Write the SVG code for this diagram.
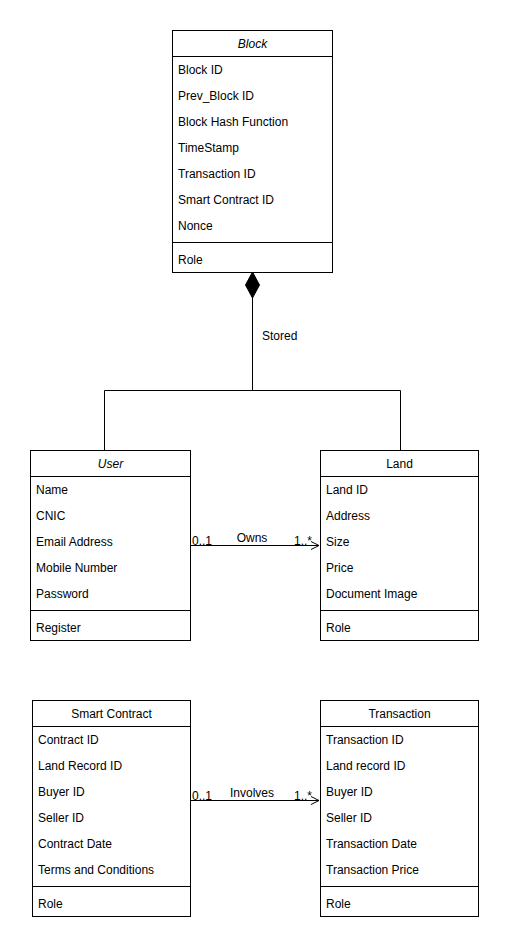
<svg xmlns="http://www.w3.org/2000/svg" width="509" height="950" viewBox="0 0 509 950">
<style>
.box{fill:#fff;stroke:#000;stroke-width:1}
.ln{fill:none;stroke:#000;stroke-width:1}
text{font-family:"Liberation Sans",Arial,sans-serif;font-size:12px;fill:#000}
.h{text-anchor:middle}
.i{font-style:italic}
</style>
<defs>
<marker id="open" markerWidth="10" markerHeight="10" refX="9" refY="5" orient="auto" markerUnits="userSpaceOnUse">
<path d="M1,1 L9,5 L1,9" fill="none" stroke="#000" stroke-width="1"/>
</marker>
</defs>
<rect width="509" height="950" fill="#fff"/>
<g id="connectors">
<path class="ln" d="M252.5,297 V390.5 M104.5,390.5 H400.5 M104.5,390.5 V450 M400.5,390.5 V450"/>
<path d="M252.5,272 L259.5,285 L252.5,298 L245.5,285 Z" fill="#000" stroke="#000"/>
<text x="262" y="340">Stored</text>
<path class="ln" d="M190,545.5 H319" marker-end="url(#open)"/>
<text x="192" y="545">0..1</text>
<text x="252" y="542" class="h">Owns</text>
<text x="294" y="545">1..*</text>
<path class="ln" d="M190,800.5 H319" marker-end="url(#open)"/>
<text x="192" y="800">0..1</text>
<text x="252" y="797" class="h">Involves</text>
<text x="294" y="800">1..*</text>
</g>
<g id="block">
<rect class="box" x="172.5" y="30.5" width="160" height="242"/>
<path class="ln" d="M172.5,56.5 H332.5 M172.5,242.5 H332.5"/>
<text x="252.5" y="48" class="h i">Block</text>
<text x="178" y="74">Block ID</text>
<text x="178" y="100">Prev_Block ID</text>
<text x="178" y="126">Block Hash Function</text>
<text x="178" y="152">TimeStamp</text>
<text x="178" y="178">Transaction ID</text>
<text x="178" y="204">Smart Contract ID</text>
<text x="178" y="230">Nonce</text>
<text x="178" y="264">Role</text>
</g>
<g id="user">
<rect class="box" x="30.5" y="450.5" width="160" height="190"/>
<path class="ln" d="M30.5,476.5 H190.5 M30.5,610.5 H190.5"/>
<text x="110.5" y="468" class="h i">User</text>
<text x="36" y="494">Name</text>
<text x="36" y="520">CNIC</text>
<text x="36" y="546">Email Address</text>
<text x="36" y="572">Mobile Number</text>
<text x="36" y="598">Password</text>
<text x="36" y="632">Register</text>
</g>
<g id="land">
<rect class="box" x="320.5" y="450.5" width="158" height="190"/>
<path class="ln" d="M320.5,476.5 H478.5 M320.5,610.5 H478.5"/>
<text x="399.5" y="468" class="h">Land</text>
<text x="326" y="494">Land ID</text>
<text x="326" y="520">Address</text>
<text x="326" y="546">Size</text>
<text x="326" y="572">Price</text>
<text x="326" y="598">Document Image</text>
<text x="326" y="632">Role</text>
</g>
<g id="smartcontract">
<rect class="box" x="32.5" y="700.5" width="158" height="216"/>
<path class="ln" d="M32.5,726.5 H190.5 M32.5,886.5 H190.5"/>
<text x="111.5" y="718" class="h">Smart Contract</text>
<text x="38" y="744">Contract ID</text>
<text x="38" y="770">Land Record ID</text>
<text x="38" y="796">Buyer ID</text>
<text x="38" y="822">Seller ID</text>
<text x="38" y="848">Contract Date</text>
<text x="38" y="874">Terms and Conditions</text>
<text x="38" y="908">Role</text>
</g>
<g id="transaction">
<rect class="box" x="320.5" y="700.5" width="158" height="216"/>
<path class="ln" d="M320.5,726.5 H478.5 M320.5,886.5 H478.5"/>
<text x="399.5" y="718" class="h">Transaction</text>
<text x="326" y="744">Transaction ID</text>
<text x="326" y="770">Land record ID</text>
<text x="326" y="796">Buyer ID</text>
<text x="326" y="822">Seller ID</text>
<text x="326" y="848">Transaction Date</text>
<text x="326" y="874">Transaction Price</text>
<text x="326" y="908">Role</text>
</g>
</svg>
